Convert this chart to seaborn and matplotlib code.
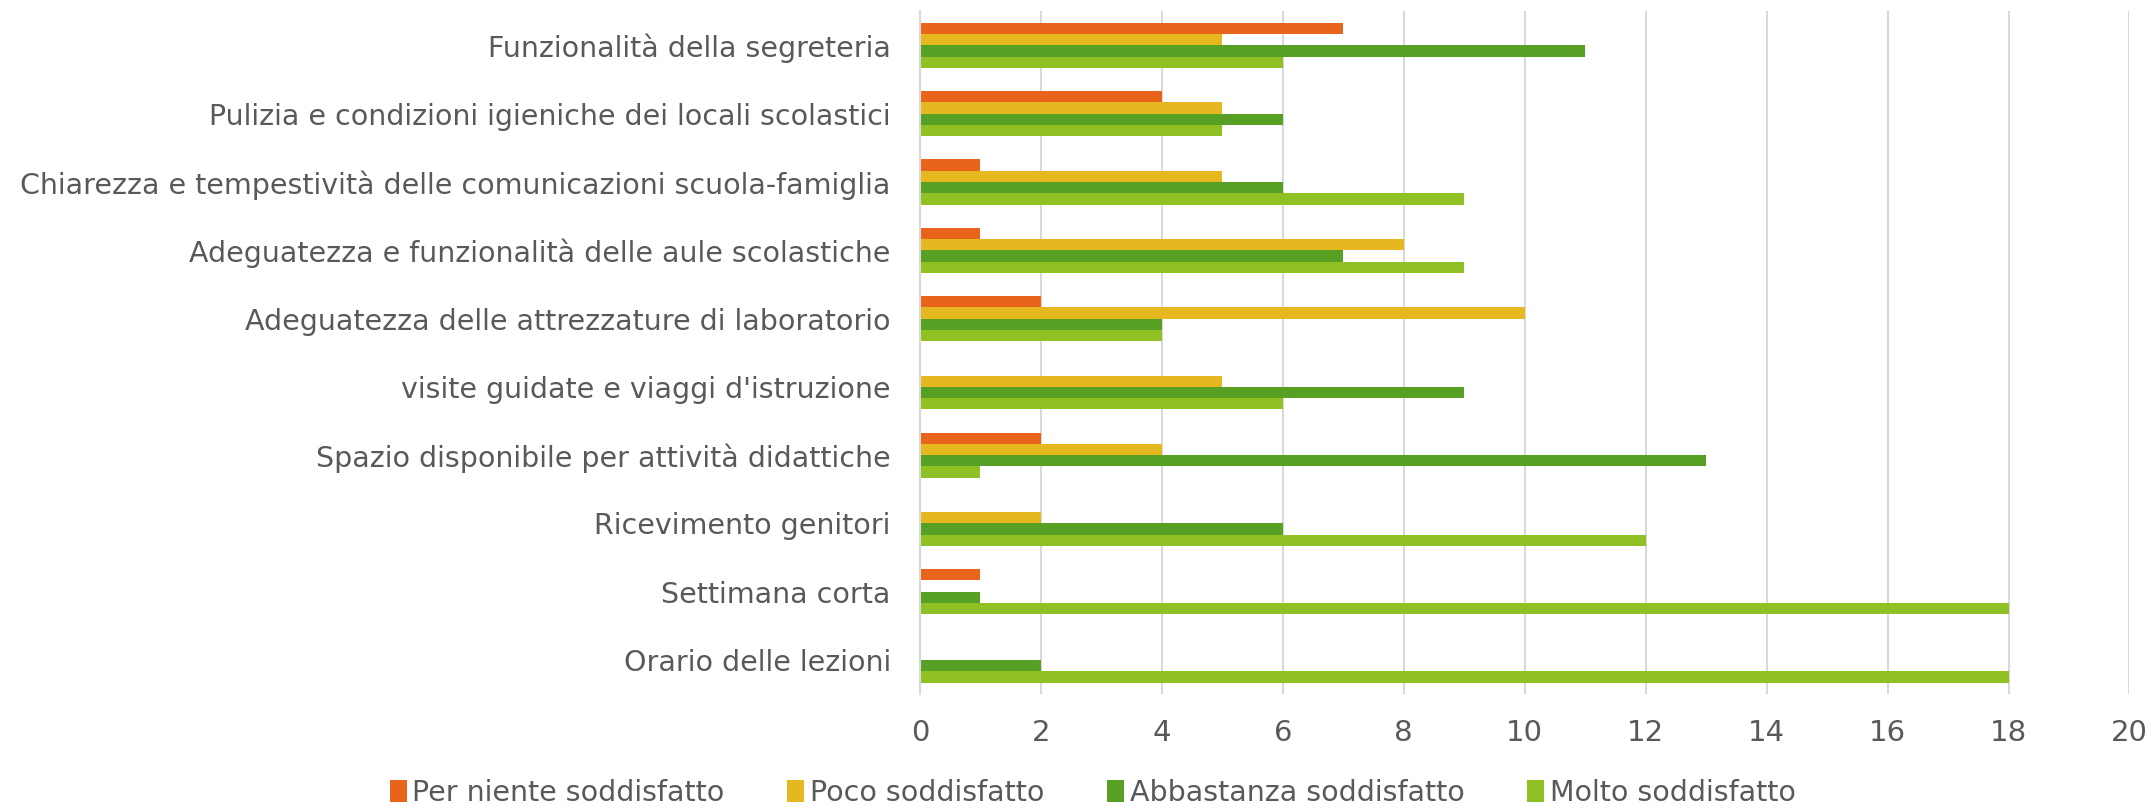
import seaborn as sns
import matplotlib.pyplot as plt
import pandas as pd

# --------------------------------------------------
# Data
# --------------------------------------------------
categories = [
    "Funzionalità della segreteria",
    "Pulizia e condizioni igieniche dei locali scolastici",
    "Chiarezza e tempestività delle comunicazioni scuola-famiglia",
    "Adeguatezza e funzionalità delle aule scolastiche",
    "Adeguatezza delle attrezzature di laboratorio",
    "visite guidate e viaggi d'istruzione",
    "Spazio disponibile per attività didattiche",
    "Ricevimento genitori",
    "Settimana corta",
    "Orario delle lezioni",
]
series = [
    "Per niente soddisfatto",
    "Poco soddisfatto",
    "Abbastanza soddisfatto",
    "Molto soddisfatto",
]
per_niente = [7, 4, 1, 1, 2, 0, 2, 0, 1, 0]
poco = [5, 5, 5, 8, 10, 5, 4, 2, 0, 0]
abbastanza = [11, 6, 6, 7, 4, 9, 13, 6, 1, 2]
molto = [6, 5, 9, 9, 4, 6, 1, 12, 18, 18]

colors = ["#E8641B", "#E6B820", "#57A023", "#8FC125"]

rows = []
for name, vals in zip(series, [per_niente, poco, abbastanza, molto]):
    for cat, v in zip(categories, vals):
        rows.append({"Voce": cat, "Giudizio": name, "Valore": v})
df = pd.DataFrame(rows)

# --------------------------------------------------
# Plot
# --------------------------------------------------
sns.set_style("white")
plt.rcParams["font.family"] = ["DejaVu Sans"]
text_color = "#595959"

fig = plt.figure(figsize=(21.51, 8.09), dpi=100)
ax = fig.add_axes([0.4277, 0.142, 0.5623, 0.844])

sns.barplot(data=df, y="Voce", x="Valore", hue="Giudizio",
            order=categories, hue_order=series, palette=colors,
            orient="h", width=0.66, saturation=1, linewidth=0, ax=ax)

ax.set_xlim(0, 20)
ax.set_xticks(range(0, 21, 2))
ax.xaxis.grid(True, color="#D9D9D9", linewidth=1.5)
ax.set_axisbelow(True)
ax.set_xlabel("")
ax.set_ylabel("")
for s in ["top", "right", "bottom"]:
    ax.spines[s].set_visible(False)
ax.spines["left"].set_color("#D9D9D9")
ax.spines["left"].set_linewidth(1.5)
ax.tick_params(axis="y", length=0, colors=text_color, labelsize=20.5, pad=21)
ax.tick_params(axis="x", length=0, colors=text_color, labelsize=21, pad=18)

ax.legend(loc="center", bbox_to_anchor=(0.508, 0.02), bbox_transform=fig.transFigure,
          ncol=4, frameon=False, fontsize=20.5, handlelength=0.6, handleheight=0.8,
          handletextpad=0.2, columnspacing=2.2, labelcolor=text_color)

fig.savefig("out.png", dpi=100)
